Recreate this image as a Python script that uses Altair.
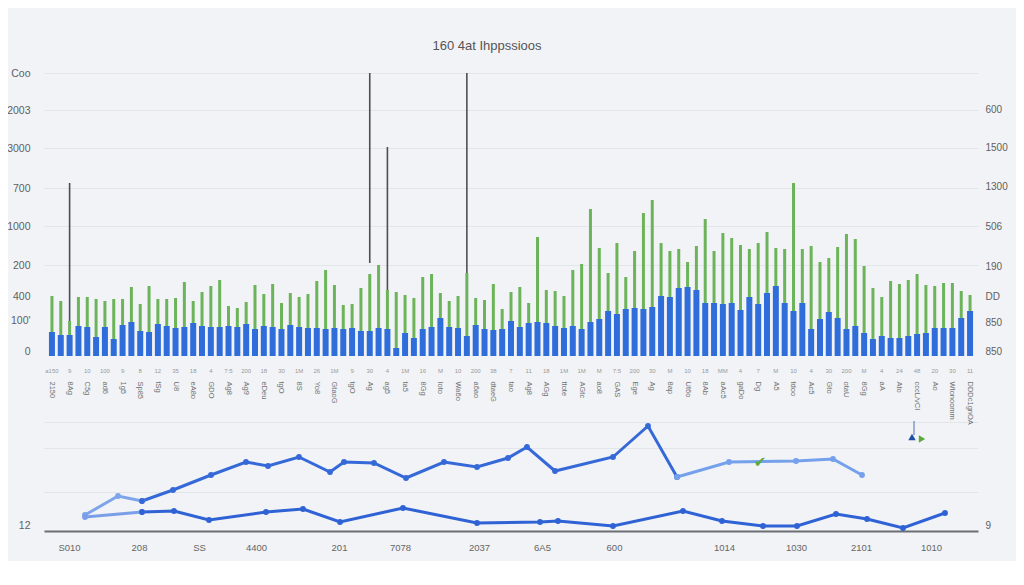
import json
import altair as alt
import pandas as pd

# ---------------- data ----------------
blue = [24, 21, 21, 30, 29, 19, 29, 17, 31, 34, 25, 24, 32, 30, 28, 29, 33, 30, 29, 29,
        30, 29, 32, 27, 30, 29, 27, 31, 29, 28, 28, 27, 28, 27,
        28, 25, 25, 28, 27, 8, 23, 18, 27, 29, 38, 29, 28, 20, 31, 27, 26, 27, 35, 29,
        33, 34, 33, 30, 28, 30, 27,
        34, 37, 45, 42, 47, 48, 47, 49, 60, 59, 68, 69, 66, 53, 53, 52, 53, 46, 59, 52,
        63, 70, 53, 45, 53, 27, 37, 44, 38, 27, 30, 23, 17, 20, 18, 18, 20, 22, 23, 28,
        28, 28, 38, 45]
green = [60, 55, 35, 59, 59, 57, 55, 57, 57, 69, 52, 70, 57, 57, 58, 74, 55, 64, 70, 76,
         50, 48, 54, 71, 62, 72, 53, 63, 59, 62, 75, 86, 71, 51,
         52, 68, 82, 91, 66, 64, 61, 58, 79, 82, 63, 55, 60, 83, 58, 56, 72, 47, 64, 69,
         53, 119, 66, 65, 60, 86, 92,
         147, 108, 83, 113, 79, 105, 143, 156, 113, 105, 107, 94, 110, 137, 105, 123, 118,
         111, 107, 113, 124, 108, 107, 173, 107, 110, 94, 98, 109, 122, 117, 90, 68, 59,
         75, 72, 76, 82, 71, 70, 73, 73, 65, 61]

spike_idx = [2, 36, 38, 47]
spike_top = [173, 283, 209, 283]
spike_bottom = [26, 93, 61, 33]

small_labels = ["a150", "9", "10", "100", "9", "8", "12", "35", "18", "4", "7:5", "200", "18",
                "30", "1M", "26", "1M", "9", "30", "4", "1M", "16", "M", "10", "200", "38",
                "7", "11", "18", "1M", "1M", "M", "7:5", "200", "30", "M", "10", "18", "MM",
                "4", "7", "M", "10", "4", "30", "200", "M", "4", "24", "48", "20", "30", "11"]
rot_labels = ["2150", "8Ag", "C5g", "ad6", "1g5", "Sp85", "tSg", "U8", "eA8o", "GDO",
              "Ag8", "Ag9", "eDeu", "tgO", "8S", "Yo8", "GtaoG", "tgO", "Ag", "ag5",
              "ta5", "8Gg", "Ioto", "Wa6o", "a6ao", "dtaeG", "tao", "Ag8", "AGg", "ttote",
              "AGtc", "ao8", "GAS", "Ege", "Ag", "8ap", "Ut6o", "8Ab", "aAc5", "gaDo",
              "Dg", "A5", "tdoo", "Ac5", "Gto", "otaU", "8Gg", "aA", "Ato", "cccL/vCI",
              "Ao", "Wtonoomm", "DDDc1gnOA"]

left_vals = [458, 421, 383, 343, 305, 266, 235, 211, 180, 6]
left_labels = ["Coo", "2003", "3000", "700", "1000", "200", "400", "100'", "0", "12"]
right_vals = [422, 384, 345, 305, 265, 235, 209, 180, 6]
right_labels = ["600", "1500", "1300", "506", "190", "DD", "850", "850", "9"]
grid_vals = [458, 421, 383, 343, 305, 266, 109, 83, 39]

bottom_vals = [25, 95, 155, 212, 295, 356, 435, 498, 570, 680, 752, 817, 887]
bottom_labels = ["S010", "208", "SS", "4400", "201", "7078", "2037", "6A5", "600",
                 "1014", "1030", "2101", "1010"]

lineA_x = [41, 74, 98, 129, 167, 202, 224, 255, 286, 300, 330, 362, 400, 433, 464, 483,
           511, 569, 604, 633, 685, 752, 789, 818]
lineA_y = [16, 35, 30, 41, 56, 69, 65, 74, 59, 69, 68, 53, 69, 64, 73, 84, 60, 74, 105,
           54, 69, 70, 72, 56]
lineB_x = [41, 98, 130, 165, 222, 259, 296, 359, 433, 496, 514, 569, 639, 678, 719, 753,
           792, 823, 859, 901]
lineB_y = [14, 19, 20, 11, 19, 22, 9, 23, 8, 9, 10, 5, 20, 10, 5, 5, 17, 12, 3, 18]

title_text = "160 4at Ihppssioos"

# ---------------- tables ----------------
BASE = 175  # bar baseline inside the shared vertical scale
n = len(blue)
idx = list(range(n))
bars = pd.DataFrame({"i": idx, "blue": [BASE + v for v in blue],
                     "green": [BASE + v for v in green], "base": [BASE] * n})
spikes = pd.DataFrame({"i": spike_idx, "top": [BASE + v for v in spike_top],
                       "bot": [BASE + v for v in spike_bottom]})

segsA = [("A1", 0, 2), ("A", 2, 19), ("A2", 19, 23)]
segsB = [("B1", 0, 1), ("B", 1, 19)]
rows = []
for name, a, b in segsA:
    for k in range(a, b + 1):
        rows.append({"x": lineA_x[k], "y": lineA_y[k], "seg": name, "o": k})
for name, a, b in segsB:
    for k in range(a, b + 1):
        rows.append({"x": lineB_x[k], "y": lineB_y[k], "seg": name, "o": k})
lines = pd.DataFrame(rows)

marks = pd.DataFrame({"x": [716], "y": [69]})
flags = pd.DataFrame({"x": [868, 878], "y": [94, 92], "c": ["d", "g"]})
flagline = pd.DataFrame({"x": [870], "y": [96], "y2": [110]})

even = [i for i in idx if i % 2 == 0][:len(small_labels)]


def expr(labels, vals):
    return f"{json.dumps(labels)}[indexof({json.dumps(vals)}, datum.value)]"


FONT = "Liberation Sans"
yscale = alt.Scale(domain=[0, 464], nice=False, zero=False)
xband = alt.Scale(domain=idx, paddingInner=0, paddingOuter=0.4)
xq = alt.Scale(domain=[0, 934], nice=False, zero=False)

seg_scale = alt.Scale(domain=["A1", "A", "A2", "B1", "B"],
                      range=["#7ea4ea", "#3569d8", "#74a0ec", "#7a9fe8", "#2f62d4"])

green_layer = alt.Chart(bars).mark_bar(size=3, color="#6cb35a").encode(
    x=alt.X("i:O", scale=xband, title=None,
            axis=alt.Axis(orient="bottom", offset=-174, values=even,
                          labelExpr=expr(small_labels, even), labelAngle=0,
                          labelFontSize=6, labelColor="#9a9a9a", labelFont=FONT,
                          labelPadding=10, ticks=False, domain=False, grid=False,
                          labelOverlap=False)),
    y=alt.Y("green:Q", scale=yscale, title=None,
            axis=alt.Axis(orient="left", values=left_vals,
                          labelExpr=expr(left_labels, left_vals), labelFontSize=10.5,
                          labelColor="#5f5f5f", labelFont=FONT, labelPadding=14,
                          ticks=False, domain=False, grid=False, labelOverlap=False)),
    y2="base:Q",
)

blue_layer = alt.Chart(bars).mark_bar(size=6, color="#2f6ddb").encode(
    x=alt.X("i:O", scale=xband, title=None,
            axis=alt.Axis(orient="bottom", offset=-174, values=even,
                          labelExpr=expr(rot_labels, even), labelAngle=90,
                          labelAlign="left", labelBaseline="middle",
                          labelFontSize=7.5, labelColor="#707070", labelFont=FONT,
                          labelPadding=24, ticks=False, domain=False, grid=False,
                          labelOverlap=False)),
    y=alt.Y("blue:Q", scale=yscale, title=None,
            axis=alt.Axis(orient="right", values=right_vals,
                          labelExpr=expr(right_labels, right_vals), labelFontSize=10,
                          labelColor="#5f5f5f", labelFont=FONT, labelPadding=7,
                          ticks=False, domain=False, grid=False, labelOverlap=False)),
    y2="base:Q",
)

spike_layer = alt.Chart(spikes).mark_rule(color="#4a4f57", strokeWidth=1.6).encode(
    x=alt.X("i:O", scale=xband, axis=None),
    y=alt.Y("top:Q", scale=yscale, title=None,
            axis=alt.Axis(orient="left", values=grid_vals, labels=False, ticks=False,
                          domain=False, grid=True, gridColor="#e2e5ea", gridWidth=1)),
    y2="bot:Q",
)

line_layer = alt.Chart(lines).mark_line(strokeWidth=3).encode(
    x=alt.X("x:Q", scale=xq, title=None,
            axis=alt.Axis(orient="bottom", values=bottom_vals,
                          labelExpr=expr(bottom_labels, bottom_vals), labelFontSize=9.5,
                          labelColor="#666666", labelFont=FONT, labelPadding=11,
                          ticks=False, domain=True, domainColor="#6b6e73", domainWidth=2,
                          grid=False, labelOverlap=False, labelFlush=False)),
    y=alt.Y("y:Q", scale=yscale, axis=None),
    color=alt.Color("seg:N", scale=seg_scale, legend=None),
    detail="seg:N",
    order="o:Q",
)

point_layer = alt.Chart(lines).mark_circle(size=34, opacity=1).encode(
    x=alt.X("x:Q", scale=xq, axis=None),
    y=alt.Y("y:Q", scale=yscale, axis=None),
    color=alt.Color("seg:N", scale=seg_scale, legend=None),
)

check_layer = alt.Chart(marks).mark_text(text="\u2714", color="#5aab3c", fontSize=15,
                                         font="DejaVu Sans").encode(
    x=alt.X("x:Q", scale=xq, axis=None),
    y=alt.Y("y:Q", scale=yscale, axis=None),
)

flag_rule = alt.Chart(flagline).mark_rule(color="#4b6fb5", strokeWidth=1).encode(
    x=alt.X("x:Q", scale=xq, axis=None),
    y=alt.Y("y:Q", scale=yscale, axis=None),
    y2="y2:Q",
)

flag_layer = alt.Chart(flags).mark_point(filled=True, size=55, opacity=1).encode(
    x=alt.X("x:Q", scale=xq, axis=None),
    y=alt.Y("y:Q", scale=yscale, axis=None),
    shape=alt.Shape("c:N", scale=alt.Scale(domain=["d", "g"],
                                           range=["triangle-up", "triangle-right"]),
                    legend=None),
    color=alt.Color("c:N", scale=alt.Scale(domain=["d", "g"],
                                           range=["#1d4fa8", "#5aab3c"]), legend=None),
)

chart = alt.layer(
    spike_layer, green_layer, blue_layer, line_layer, point_layer,
    check_layer, flag_rule, flag_layer,
).resolve_scale(
    x="independent", color="independent", shape="independent"
).resolve_axis(
    x="independent", y="independent"
).properties(
    width=934,
    height=464,
    title=alt.TitleParams(title_text, fontSize=13, color="#555555", font=FONT,
                          fontWeight="normal", offset=14, dx=-24),
    autosize=alt.AutoSizeParams(type="none"),
    padding={"left": 36, "top": 59, "right": 38, "bottom": 30},
    background="#f1f3f6",
).configure_view(stroke=None)

chart.save("out.html", embed_options={"renderer": "svg", "actions": False})
